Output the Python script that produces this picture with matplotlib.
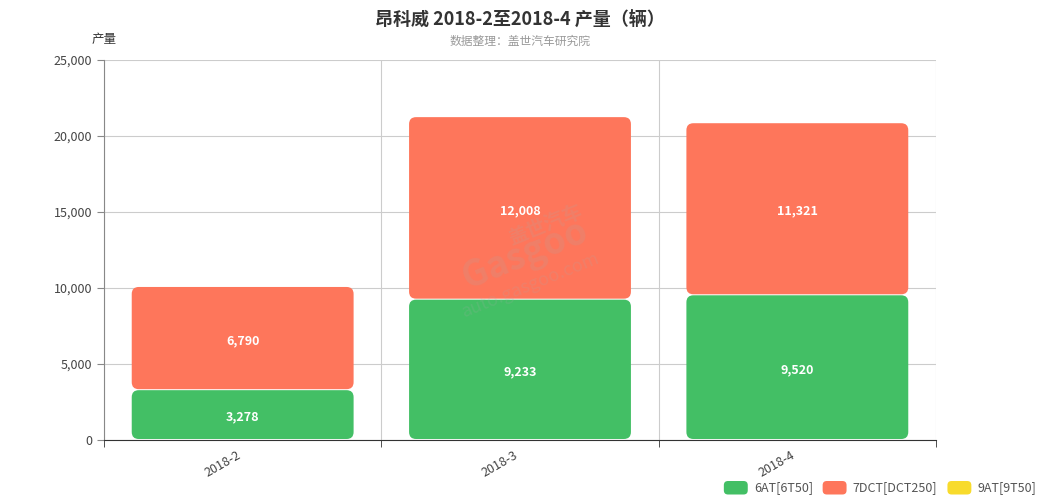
import matplotlib
matplotlib.use("Agg")
import matplotlib.pyplot as plt
from matplotlib.patches import FancyBboxPatch
import numpy as np

plt.rcParams["font.family"] = ["Noto Sans CJK SC", "DejaVu Sans"]

# data
months = ["2018-2", "2018-3", "2018-4"]
series_names = ["6AT[6T50]", "7DCT[DCT250]", "9AT[9T50]"]
at6 = [3278, 9233, 9520]
dct7 = [6790, 12008, 11321]
at9 = [0, 0, 0]
colors = ["#43BF65", "#FE765B", "#F8DB2C"]

fig = plt.figure(figsize=(10.4, 5.0), dpi=100)
ax = fig.add_axes([0.1, 0.12, 0.8, 0.76])

x = np.arange(len(months))
ymax = 25000
ax.set_xlim(-0.5, len(months) - 0.5)
ax.set_ylim(0, ymax)

# rounded bars
px_x = len(months) / 832.0
px_y = ymax / 380.0
aspect = px_y / px_x
radius = 7 * px_x

bottoms = np.zeros(len(months))
for vals, col in zip([at6, dct7, at9], colors):
    bars = ax.bar(x, vals, width=0.8, bottom=bottoms, color=col)
    for b, v in zip(bars, vals):
        b.set_visible(False)
        if v <= 0:
            continue
        gap = 1.0 * px_y
        x0 = b.get_x() + radius
        w = b.get_width() - 2 * radius
        y0 = b.get_y() + radius * aspect + gap
        h = b.get_height() - 2 * radius * aspect - gap
        patch = FancyBboxPatch((x0, y0), w, h,
                               boxstyle=f"round,pad={radius},rounding_size={radius}",
                               mutation_aspect=aspect, facecolor=col,
                               edgecolor="none", zorder=3)
        ax.add_patch(patch)
        ax.text(b.get_x() + b.get_width() / 2, b.get_y() + b.get_height() / 2 - 2 * px_y,
                f"{v:,}", ha="center", va="center", color="white",
                fontsize=9, fontweight="bold", zorder=4)
    bottoms = bottoms + np.array(vals)

# grid
ax.set_yticks(np.arange(0, ymax + 1, 5000))
ax.set_yticklabels([f"{int(v):,}" for v in np.arange(0, ymax + 1, 5000)])
ax.grid(axis="y", color="#cccccc", linewidth=0.8, zorder=0)
for xb in np.arange(-0.5, len(months), 1.0):
    ax.axvline(xb, color="#cccccc", linewidth=0.8, zorder=0)
ax.set_axisbelow(True)

ax.set_xticks(x)
ax.set_xticklabels(months, rotation=30, ha="right", fontsize=9, color="#444444")
ax.tick_params(axis="x", length=0, pad=6)
ax.set_xticks(np.arange(-0.5, len(months), 1.0), minor=True)
ax.tick_params(axis="x", which="minor", length=5, color="#333333")
ax.tick_params(axis="y", length=5, labelsize=9, labelcolor="#444444", color="#888888")

for s in ["top", "right"]:
    ax.spines[s].set_visible(False)
ax.spines["left"].set_color("#888888")
ax.spines["bottom"].set_color("#333333")

# watermark
wm = dict(ha="center", va="center", rotation=22, color="#aaaaaa", alpha=0.18, zorder=5)
fig.text(0.525, 0.55, "盖世汽车", fontsize=14, fontweight="bold", **wm)
fig.text(0.505, 0.49, "Gasgoo", fontsize=26, fontweight="bold", **wm)
fig.text(0.51, 0.43, "auto.gasgoo.com", fontsize=13, **wm)

# titles
fig.text(0.5, 0.962, "昂科威 2018-2至2018-4 产量（辆）", ha="center", va="center",
         fontsize=13, fontweight="bold", color="#333333")
fig.text(0.5, 0.918, "数据整理：盖世汽车研究院", ha="center", va="center",
         fontsize=8.5, color="#999999")
fig.text(0.1, 0.92, "产量", ha="center", va="center", fontsize=9, color="#333333")

# legend
legend_x = [0.696, 0.791, 0.911]
for lx, name, col in zip(legend_x, series_names, colors):
    fig.patches.append(FancyBboxPatch((lx, 0.011), 0.023, 0.027,
                                      boxstyle="round,pad=0,rounding_size=0.004",
                                      transform=fig.transFigure, facecolor=col,
                                      edgecolor="none", mutation_aspect=2.08))
    fig.text(lx + 0.029, 0.024, name, ha="left", va="center", fontsize=9, color="#555555")

fig.savefig("out.png", dpi=100)
